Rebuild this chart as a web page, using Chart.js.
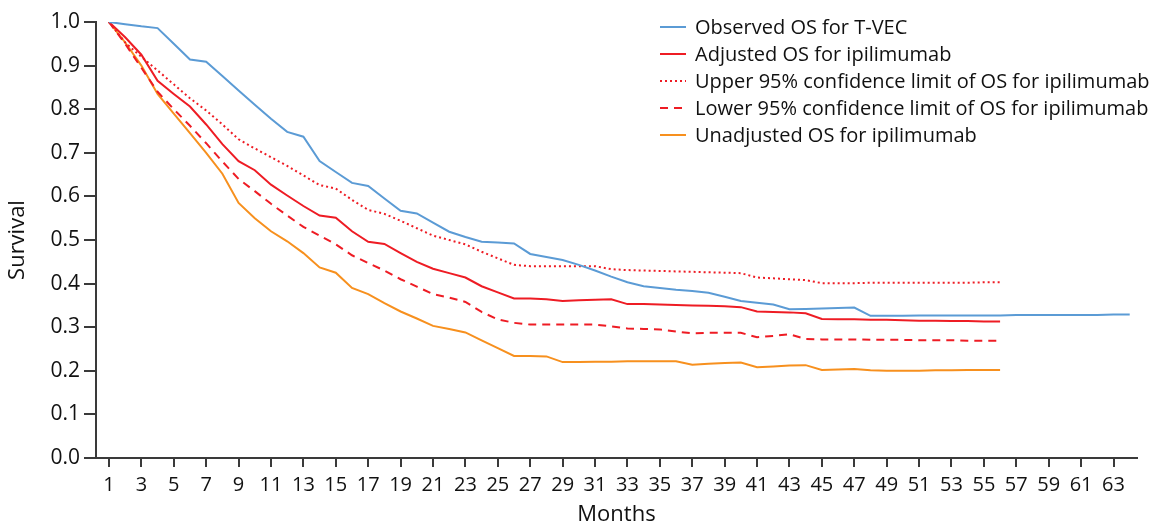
<!DOCTYPE html>
<html>
<head>
<meta charset="utf-8">
<script src="https://cdn.jsdelivr.net/npm/chart.js@4/dist/chart.umd.min.js"></script>
<style>
  html, body { margin: 0; padding: 0; background: #fff; }
  #wrap { width: 1153px; height: 528px; }
</style>
</head>
<body>
<div id="wrap"><canvas id="grafico"></canvas></div>
<script>
// dados
const months = [1,2,3,4,5,6,7,8,9,10,11,12,13,14,15,16,17,18,19,20,21,22,23,24,25,26,27,28,29,30,31,32,
  33,34,35,36,37,38,39,40,41,42,43,44,45,46,47,48,49,50,51,52,53,54,55,56,57,58,59,60,61,62,63,64];
const tickMonths = [1,3,5,7,9,11,13,15,17,19,21,23,25,27,29,31,33,35,37,39,41,43,45,47,49,51,53,55,57,59,61,63];
const yTicks = [0,0.1,0.2,0.3,0.4,0.5,0.6,0.7,0.8,0.9,1.0];

const observedTVEC = [1.0,0.995,0.99,0.986,0.95,0.914,0.909,0.876,0.843,0.81,
  0.778,0.748,0.737,0.681,0.656,0.631,0.624,0.595,0.567,0.561,
  0.54,0.519,0.507,0.496,0.494,0.492,0.468,0.461,0.454,0.443,
  0.43,0.416,0.403,0.394,0.39,0.386,0.383,0.379,0.37,0.36,
  0.356,0.352,0.341,0.342,0.343,0.344,0.345,0.326,0.326,0.326,
  0.327,0.327,0.327,0.327,0.327,0.327,0.328,0.328,0.328,0.328,
  0.328,0.328,0.329,0.329];
const adjustedIpi = [1.0,0.965,0.925,0.865,0.835,0.806,0.765,0.72,0.681,0.66,
  0.627,0.602,0.578,0.556,0.551,0.52,0.496,0.491,0.47,0.45,
  0.434,0.424,0.414,0.394,0.38,0.366,0.366,0.364,0.36,0.362,
  0.363,0.364,0.353,0.353,0.352,0.351,0.35,0.349,0.348,0.346,
  0.336,0.335,0.334,0.332,0.319,0.318,0.318,0.317,0.317,0.316,
  0.315,0.315,0.314,0.314,0.313,0.313];
const upperIpi = [1.0,0.953,0.92,0.889,0.857,0.825,0.797,0.765,0.731,0.71,
  0.69,0.67,0.648,0.626,0.618,0.592,0.569,0.56,0.544,0.527,
  0.51,0.5,0.49,0.473,0.458,0.443,0.44,0.44,0.44,0.44,
  0.44,0.433,0.431,0.43,0.429,0.428,0.427,0.426,0.425,0.424,
  0.414,0.412,0.41,0.408,0.401,0.401,0.401,0.402,0.402,0.402,
  0.402,0.402,0.402,0.402,0.403,0.403];
const lowerIpi = [1.0,0.95,0.895,0.84,0.8,0.762,0.722,0.68,0.64,0.612,
  0.583,0.556,0.53,0.51,0.49,0.465,0.447,0.43,0.41,0.393,
  0.376,0.368,0.358,0.335,0.318,0.31,0.306,0.306,0.306,0.306,
  0.306,0.302,0.297,0.296,0.295,0.29,0.286,0.287,0.287,0.287,
  0.277,0.28,0.284,0.273,0.272,0.272,0.272,0.271,0.271,0.271,
  0.27,0.27,0.27,0.269,0.269,0.269];
const unadjustedIpi = [1.0,0.953,0.9,0.835,0.79,0.745,0.70,0.652,0.585,0.55,
  0.52,0.497,0.47,0.437,0.425,0.39,0.376,0.355,0.336,0.32,
  0.303,0.296,0.288,0.27,0.252,0.234,0.234,0.233,0.22,0.22,
  0.221,0.221,0.222,0.222,0.222,0.222,0.214,0.216,0.218,0.219,
  0.208,0.21,0.212,0.213,0.202,0.203,0.204,0.201,0.2,0.2,
  0.2,0.201,0.201,0.202,0.202,0.202];

const FONTE = "'Open Sans', 'Noto Sans', sans-serif";
const EIXO = '#3a3a3a';

function pontos(valores){
    return valores.map((v, i) => ({ x: months[i], y: v }));
}

// legenda desenhada dentro da área do gráfico
const legendaInterna = {
    id: 'legendaInterna',
    afterDraw(chart){
        const ctx = chart.ctx;
        ctx.save();
        ctx.font = '20px ' + FONTE;
        ctx.textBaseline = 'middle';
        chart.data.datasets.forEach((ds, i) => {
            const y = 27 + i * 27;
            ctx.strokeStyle = ds.borderColor;
            ctx.lineWidth = 2;
            ctx.setLineDash(ds.borderDash || []);
            ctx.beginPath();
            ctx.moveTo(660, y);
            ctx.lineTo(686, y);
            ctx.stroke();
            ctx.setLineDash([]);
            ctx.fillStyle = '#111';
            ctx.fillText(ds.label, 695, y + 1);
        });
        ctx.restore();
    }
};

function criarGrafico(canvasID){
    const ctx = document.getElementById(canvasID).getContext('2d');

    new Chart(ctx, {
        type: 'line',
        data: {
            datasets: [{
                label: 'Observed OS for T-VEC',
                data: pontos(observedTVEC),
                borderColor: '#5b9bd5',
                borderWidth: 2
            }, {
                label: 'Adjusted OS for ipilimumab',
                data: pontos(adjustedIpi),
                borderColor: '#ee1c24',
                borderWidth: 2
            }, {
                label: 'Upper 95% confidence limit of OS for ipilimumab',
                data: pontos(upperIpi),
                borderColor: '#ee1c24',
                borderWidth: 2,
                borderDash: [2, 3]
            }, {
                label: 'Lower 95% confidence limit of OS for ipilimumab',
                data: pontos(lowerIpi),
                borderColor: '#ee1c24',
                borderWidth: 2,
                borderDash: [8, 6]
            }, {
                label: 'Unadjusted OS for ipilimumab',
                data: pontos(unadjustedIpi),
                borderColor: '#f7901e',
                borderWidth: 2
            }]
        },
        options: {
            responsive: true,
            maintainAspectRatio: false,
            animation: false,
            layout: { padding: { top: 22, right: 16, left: 0, bottom: 0 } },
            elements: { point: { radius: 0 }, line: { tension: 0 } },
            plugins: { legend: { display: false }, tooltip: { enabled: false } },
            scales: {
                x: {
                    type: 'linear',
                    min: 0.2,
                    max: 64.45,
                    afterBuildTicks: (axis) => { axis.ticks = tickMonths.map(v => ({ value: v })); },
                    afterFit: (axis) => { axis.height = 70; },
                    border: { display: true, color: EIXO, width: 2 },
                    grid: { drawOnChartArea: false, drawTicks: true, tickLength: 9, color: EIXO, lineWidth: 2 },
                    ticks: { autoSkip: false, maxRotation: 0, padding: 6, color: '#111', font: { family: FONTE, size: 20 } },
                    title: { display: true, text: 'Months', color: '#111', font: { family: FONTE, size: 22 }, padding: { top: 0, bottom: 0 } }
                },
                y: {
                    min: 0,
                    max: 1,
                    afterBuildTicks: (axis) => { axis.ticks = yTicks.map(v => ({ value: v })); },
                    afterFit: (axis) => { axis.width = 96; },
                    border: { display: true, color: EIXO, width: 2 },
                    grid: { drawOnChartArea: false, drawTicks: true, tickLength: 12, color: EIXO, lineWidth: 2 },
                    ticks: { padding: 4, color: '#111', font: { family: FONTE, size: 21 }, callback: (v) => Number(v).toFixed(1) },
                    title: { display: true, text: 'Survival', color: '#111', font: { family: FONTE, size: 22 }, padding: { top: 5, bottom: 0 } }
                }
            }
        },
        plugins: [legendaInterna]
    });
}

criarGrafico('grafico');
</script>
</body>
</html>
